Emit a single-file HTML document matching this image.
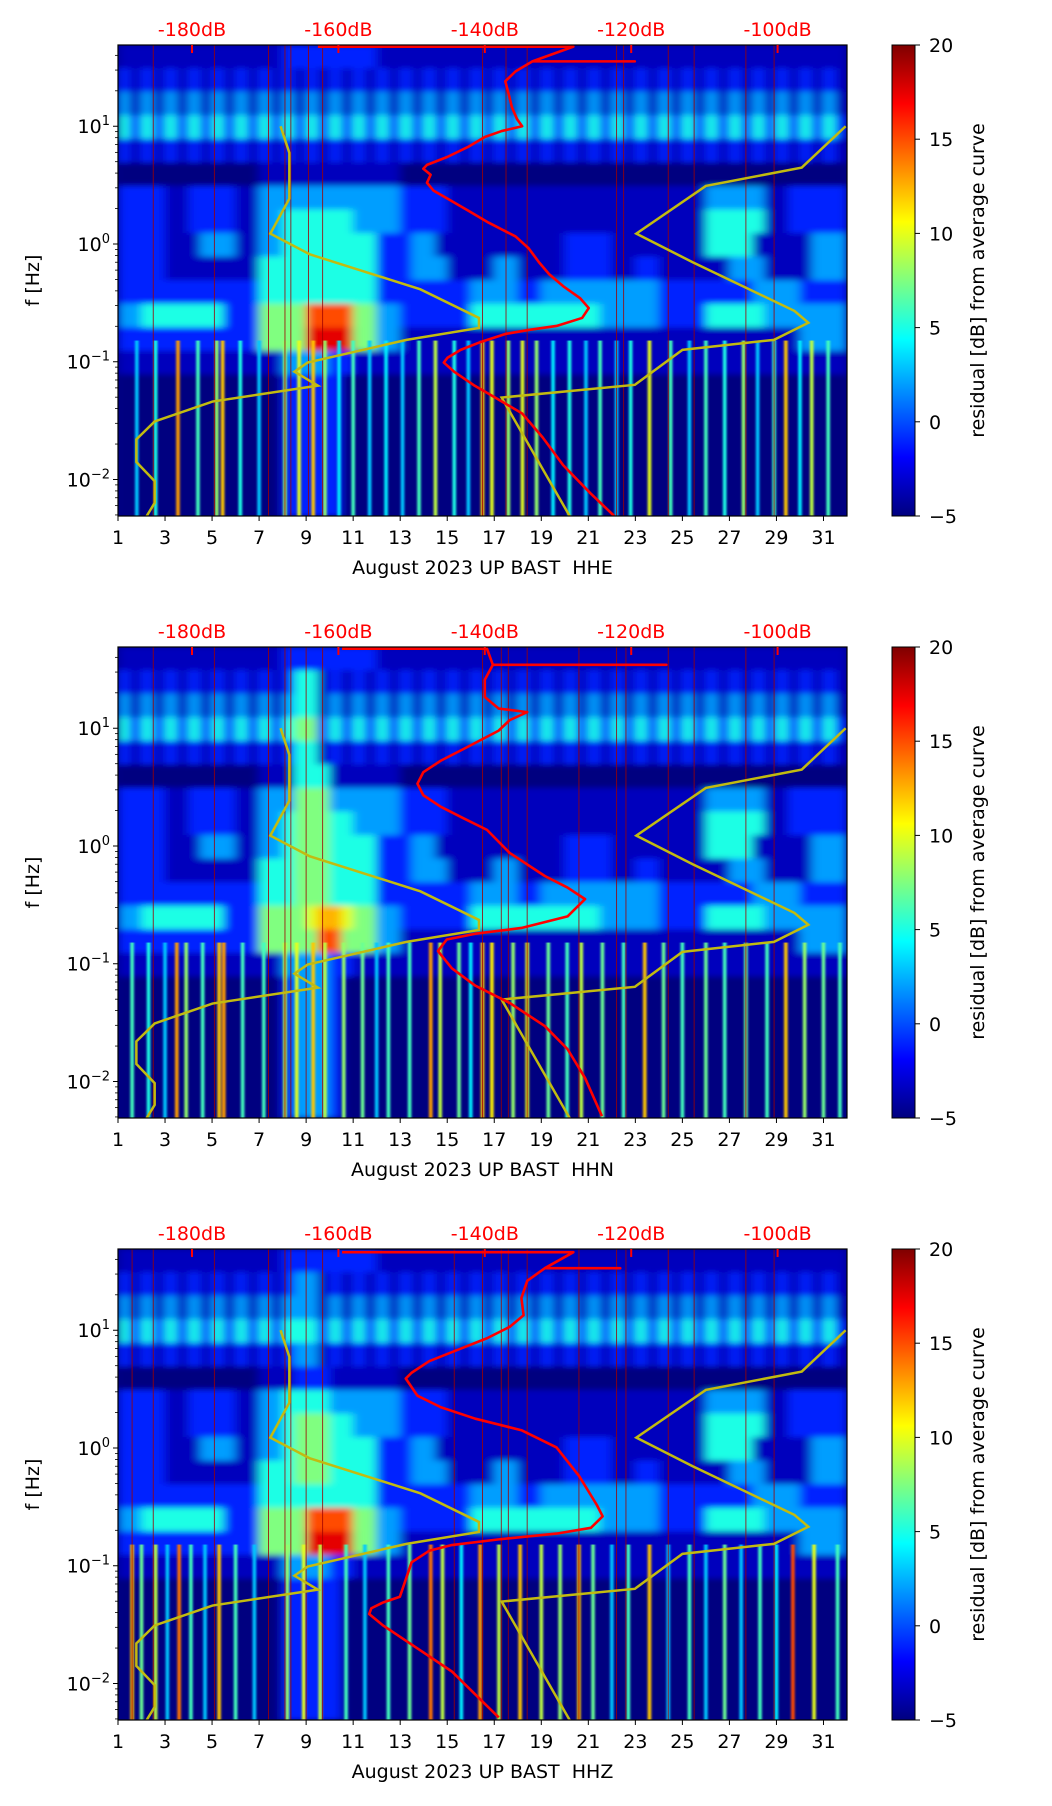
<!DOCTYPE html>
<html><head><meta charset="utf-8">
<style>
html,body{margin:0;padding:0;background:#fff;}
svg{display:block;font-family:"DejaVu Sans","Liberation Sans",sans-serif;}
</style></head>
<body>
<svg id="fig" width="1052" height="1806" viewBox="0 0 1052 1806" xmlns="http://www.w3.org/2000/svg">
<defs>
<filter id="blur" x="-5%" y="-5%" width="110%" height="110%"><feGaussianBlur stdDeviation="5 3"/></filter>
<filter id="blur2" x="-20%" y="-5%" width="140%" height="110%"><feGaussianBlur stdDeviation="1 0"/></filter>
<linearGradient id="jetgrad" x1="0" y1="1" x2="0" y2="0">
<stop offset="0" stop-color="#00007f"/><stop offset="0.125" stop-color="#0000ff"/><stop offset="0.375" stop-color="#00ffff"/><stop offset="0.625" stop-color="#ffff00"/><stop offset="0.875" stop-color="#ff0000"/><stop offset="1" stop-color="#7f0000"/>
</linearGradient>
</defs>
</svg>
<script>
// ---------- data ----------
const dayTicks = [1,3,5,7,9,11,13,15,17,19,21,23,25,27,29,31];
const dbTicks = [-180,-160,-140,-120,-100];
const cbTicks = [20,15,10,5,0,-5];
const yDecades = [1,0,-1,-2];
const panelNames = ['HHE','HHN','HHZ'];
// residual level for each grid digit
const levelDb = [-5,-3.5,-1,2,5,7.5,10,12.5,15,17.5];

// heatmap grids: 20 rows (0.2 decade each, 49Hz down to 0.005Hz) x 62 half-day columns
const gridE = [
"11111111111111222222221111111111111111111111111111111111111111",
"21212121212121212121212121212121212121212121212121212121212121",
"31313131313131313131313131313131313131313131313131313131313131",
"42424242424242424242424242424242424242424242424242424242424242",
"21212121212121212121212121212121212121212121212121212121212121",
"00000000000011111111111100000000000000000000000000000000000000",
"22221122221133333333333322221111111111111111111111333331122222",
"22221122221133444444333322221111111111111111111111444441122222",
"22221113331133444444442223311111111111222211111111444411111333",
"22221111111144444444442223331111331111222211221111113331111333",
"22222222222244444444442222222233332233333333332222222233332222",
"33444444422255558888553322222244444444444333332222444443333333",
"22222222222255559999553311111111111111111111111111111111113333",
"11111111111111333322111111111111111111111111111111111111111111",
"00000000000000222220000000000000000000000000000000000000000000",
"00000000000000222220000000000000000000000000000000000000000000",
"00000000000000222220000000000000000000000000000000000000000000",
"00000000000000222220000000000000000000000000000000000000000000",
"00000000000000222220000000000000000000000000000000000000000000",
"00000000000000222220000000000000000000000000000000000000000000"];
const gridN = [
"11111111111111222222221111111111111111111111111111111111111111",
"212121212121212"+"44"+"1"+"21212121212121212121212121212121212121212121",
"313131313131313"+"44"+"1"+"31313131313131313131313131313131313131313131",
"424242424242424"+"55"+"2"+"42424242424242424242424242424242424242424242",
"212121212121212"+"44"+"1"+"21212121212121212121212121212121212121212121",
"000000000000"+"111444111111"+"00000000000000000000000000000000000000",
"22221122221133355533333322221111111111111111111111333331122222",
"22221122221133455544333322221111111111111111111111444441122222",
"22221113331133455544442223311111111111222211111111444411111333",
"22221111111144455544442223331111331111222211221111113331111333",
"22222222222244455544442222222233332233333333332222222233332222",
"33444444422255556776553322222244444444444333332222444443333333",
"22222222222255555885553311111111111111111111111111111111113333",
"11111111111111333322111111111111111111111111111111111111111111",
"00000000000000233320000000000000000000000000000000000000000000",
"00000000000000233320000000000000000000000000000000000000000000",
"00000000000000233320000000000000000000000000000000000000000000",
"00000000000000233320000000000000000000000000000000000000000000",
"00000000000000233320000000000000000000000000000000000000000000",
"00000000000000233320000000000000000000000000000000000000000000"];
const gridZ = [
"11111111111111222222221111111111111111111111111111111111111111",
"212121212121212"+"33"+"1"+"21212121212121212121212121212121212121212121",
"313131313131313"+"33"+"1"+"31313131313131313131313131313131313131313131",
"424242424242424"+"44"+"2"+"42424242424242424242424242424242424242424242",
"212121212121212"+"33"+"1"+"21212121212121212121212121212121212121212121",
"000000000000"+"111222111111"+"00000000000000000000000000000000000000",
"22221122221133444433333322221111111111111111111111333331122222",
"22221122221133455544333322221111111111111111111111444441122222",
"22221113331133455544442223311111111111222211111111444411111333",
"22221111111144455544442223331111331111222211221111113331111333",
"22222222222244444444442222222233332233333333332222222233332222",
"33444444422255558888553322222244444444444333332222444443333333",
"22222222222255559999553311111111111111111111111111111111113333",
"11111111111111333322111111111111111111111111111111111111111111",
"00000000000000222220000000000000000000000000000000000000000000",
"00000000000000222220000000000000000000000000000000000000000000",
"00000000000000222220000000000000000000000000000000000000000000",
"00000000000000222220000000000000000000000000000000000000000000",
"00000000000000222220000000000000000000000000000000000000000000",
"00000000000000222220000000000000000000000000000000000000000000"];

// low-frequency vertical streaks (day, residual dB)
const streakDaysE = [1.8,2.6,3.55,4.4,5.2,5.45,6.2,7.0,8.1,8.7,9.3,9.8,10.4,11.0,11.7,12.4,13.1,13.8,14.5,15.3,15.9,16.5,16.9,17.6,18.2,18.8,19.5,20.2,20.9,21.5,22.2,22.8,23.6,24.5,25.3,26.0,26.8,27.6,28.2,28.9,29.4,30.0,30.5,31.2];
const streakValsE = [3,5,13,6,8,12,5,3,8,10,12,8,4,6,3,4,3,6,9,5,3,12,10,8,10,8,4,5,3,6,3,5,10,6,3,6,5,8,3,6,12,4,9,6];
const streakDaysN = [1.6,2.3,3.0,3.5,3.9,4.6,5.3,5.5,6.3,7.2,8.1,8.6,9.3,9.8,10.6,11.4,12.0,12.5,13.4,14.3,14.7,15.5,16.0,16.5,16.9,17.8,18.4,19.3,20.1,20.7,21.6,22.5,23.4,24.2,25.0,26.0,26.8,27.7,28.6,29.4,30.2,31.0,31.7];
const streakValsN = [6,5,3,13,8,6,12,13,6,6,9,10,12,9,8,7,3,6,6,13,9,7,4,12,11,8,10,7,6,9,7,6,12,7,6,7,6,7,6,12,8,7,6];
const streakDaysZ = [1.6,2.0,2.6,3.1,3.6,4.1,4.7,5.3,6.0,6.8,8.2,8.9,9.6,10.7,11.5,12.5,13.4,14.3,14.8,15.6,16.4,17.2,18.1,19.0,19.8,20.6,21.2,22.0,22.7,23.6,24.4,25.3,26.0,26.8,27.5,28.3,29.0,29.7,30.6,31.6];
const streakValsZ = [12,7,9,3,14,6,3,12,6,3,8,10,9,6,3,6,7,14,9,4,13,9,12,9,8,12,7,3,6,12,3,6,3,7,3,6,4,15,10,6];

// thin dark-red vertical lines (days)
const vlineDaysE = [2.5,5.1,7.4,8.1,8.35,9.1,9.7,16.5,17.5,18.4,22.2,22.5,24.4,25.5,27.7,28.9];
const vlineDaysN = [2.5,5.1,7.4,8.1,8.35,9.0,9.7,16.5,17.3,17.6,18.4,20.6,22.2,22.6,24.4,25.5,27.7,28.9];
const vlineDaysZ = [1.6,2.5,5.1,7.4,8.1,8.35,9.0,9.7,15.3,16.5,17.3,17.6,18.4,20.6,22.2,22.6,24.4,25.5,27.7,28.9];

// red average curve (dB, log10 f)
const redDbE = [-162.8,-127.9,-133.5,-119.5,-133.5,-135.8,-137.2,-136.7,-136.3,-135.6,-134.9,-137.7,-140,-142.3,-145.1,-147.9,-148.4,-147.4,-147.9,-147,-145.1,-142.3,-139.5,-135.8,-134,-132.6,-131.2,-129.3,-127,-125.8,-126.7,-130.2,-134,-137.2,-140.5,-143.3,-145.1,-145.6,-144.2,-141.4,-138.6,-134.9,-132.1,-129.3,-125.6,-122.3];
const redLogE = [1.676,1.676,1.551,1.551,1.551,1.466,1.382,1.264,1.162,1.061,1.0,0.959,0.909,0.824,0.74,0.672,0.639,0.588,0.52,0.453,0.385,0.284,0.182,0.064,-0.037,-0.155,-0.257,-0.358,-0.459,-0.544,-0.628,-0.696,-0.73,-0.764,-0.831,-0.899,-0.966,-1.007,-1.084,-1.203,-1.304,-1.439,-1.642,-1.878,-2.115,-2.311];
const redDbN = [-159.5,-139.7,-138.9,-115.2,-138.9,-140,-140,-138.1,-134.2,-136.6,-138.1,-142.9,-146,-148.4,-149.2,-148.4,-146,-142.9,-139.7,-136.6,-131.8,-128.7,-126.3,-128.7,-135,-141.3,-145.2,-146.4,-144.5,-141.3,-136.6,-131.8,-128.7,-126.3,-124];
const redLogN = [1.676,1.676,1.539,1.539,1.539,1.412,1.265,1.167,1.137,1.069,0.98,0.824,0.725,0.627,0.529,0.431,0.333,0.235,0.137,-0.059,-0.255,-0.353,-0.451,-0.598,-0.696,-0.745,-0.794,-0.892,-1.039,-1.186,-1.333,-1.529,-1.725,-1.971,-2.294];
const redDbZ = [-159.5,-127.9,-131.8,-121.5,-131.8,-134.2,-135,-134.7,-136.6,-139.7,-143.7,-147.6,-150,-150.8,-149.2,-146,-141.3,-135,-130.2,-127.1,-124.7,-123.9,-125.5,-130.2,-138.1,-144.5,-147.6,-150,-150.8,-151.6,-153.9,-155.5,-155.8,-153.9,-149.2,-144.5,-141.3,-138.1];
const redLogZ = [1.663,1.663,1.527,1.527,1.527,1.42,1.273,1.127,1.029,0.932,0.834,0.737,0.639,0.59,0.444,0.346,0.249,0.151,0.005,-0.239,-0.483,-0.58,-0.678,-0.727,-0.776,-0.824,-0.873,-0.971,-1.117,-1.263,-1.312,-1.361,-1.41,-1.507,-1.702,-1.898,-2.093,-2.288];

// yellow noise-model curves (dB, log10 f)
const lowDb = [-167.9,-166.7,-166.7,-169.3,-163.9,-148.8,-140.8,-140.8,-150.7,-164.2,-166.0,-162.8,-177.2,-185.1,-187.6,-187.6,-185.1,-185.1,-186.2];
const lowLog = [1.0,0.774,0.385,0.088,-0.088,-0.385,-0.628,-0.713,-0.814,-1.007,-1.084,-1.203,-1.338,-1.507,-1.659,-1.851,-2.014,-2.199,-2.311];
const highDb = [-90.7,-96.7,-109.8,-119.3,-111.6,-97.7,-95.8,-100.5,-113.0,-119.5,-137.7,-128.4];
const highLog = [1.0,0.649,0.493,0.088,-0.155,-0.568,-0.669,-0.814,-0.899,-1.196,-1.304,-2.311];

// ---------- drawing ----------
const NS = 'http://www.w3.org/2000/svg';
const svg = document.getElementById('fig');
const PL = 118, PR = 847, PH = 471;
const tops = [45, 647, 1249];
const LTOP = 1.69, LBOT = -2.31;
const grids = [gridE, gridN, gridZ];
const sDays = [streakDaysE, streakDaysN, streakDaysZ];
const sVals = [streakValsE, streakValsN, streakValsZ];
const vDays = [vlineDaysE, vlineDaysN, vlineDaysZ];
const rDb = [redDbE, redDbN, redDbZ];
const rLog = [redLogE, redLogN, redLogZ];

function xDay(d){ return PL + (d-1)*(PR-PL)/31; }
function xDb(db){ return 192 + (db+180)*7.32; }
function yLog(T,L){ return T + (LTOP-L)/(LTOP-LBOT)*PH; }
function jet(v){
  const t = Math.max(0, Math.min(1, (v+5)/25));
  const c = x => Math.round(255*Math.max(0, Math.min(1, x)));
  return 'rgb('+c(1.5-Math.abs(4*t-3))+','+c(1.5-Math.abs(4*t-2))+','+c(1.5-Math.abs(4*t-1))+')';
}
function el(tag, attrs, parent){
  const e = document.createElementNS(NS, tag);
  for (const k in attrs) e.setAttribute(k, attrs[k]);
  (parent||svg).appendChild(e);
  return e;
}
function txt(s, attrs, parent){ const e = el('text', attrs, parent); e.textContent = s; return e; }

tops.forEach((T, p) => {
  const panel = el('g', {});
  
  

  const cid = 'clip' + p;
  const cp = el('clipPath', {id: cid}, panel);
  el('rect', {x: PL, y: T, width: PR-PL, height: PH}, cp);

  const plot = el('g', {'clip-path': 'url(#' + cid + ')'}, panel);
  
  
  el('rect', {x: PL, y: T, width: PR-PL, height: PH, fill: '#000088'}, plot);

  const heat = el('g', {filter: 'url(#blur)'}, plot);
  
  
  const g = grids[p];
  const nRows = g.length, rowL = (LTOP-LBOT)/nRows;
  g.forEach((row, r) => {
    const y0 = yLog(T, LTOP - r*rowL), y1 = yLog(T, LTOP - (r+1)*rowL);
    for (let c = 0; c < row.length; c++){
      const v = levelDb[parseInt(row[c], 10)];
      const x0 = xDay(1 + c*0.5), x1 = xDay(1.5 + c*0.5);
      const cell = el('rect', {x: x0-0.3, y: y0-0.3, width: x1-x0+0.6, height: y1-y0+0.6, fill: jet(v)}, heat);
      
      
    }
  });

  const st = el('g', {filter: 'url(#blur2)'}, plot);
  
  
  sDays[p].forEach((d, i) => {
    const s = el('rect', {x: xDay(d)-1.8, y: yLog(T, -0.82), width: 3.6, height: yLog(T, LBOT)-yLog(T, -0.82), fill: jet(sVals[p][i])}, st);
    
    
  });

  vDays[p].forEach(d => {
    const l = el('line', {x1: xDay(d), x2: xDay(d), y1: T, y2: T+PH, stroke: '#a00000', 'stroke-width': 1, opacity: 0.8}, plot);
    
    
  });

  const low = el('polyline', {points: lowDb.map((d,i)=>xDb(d)+','+yLog(T,lowLog[i])).join(' '), fill: 'none', stroke: '#c2bb10', 'stroke-width': 2.5}, plot);
  
  
  const high = el('polyline', {points: highDb.map((d,i)=>xDb(d)+','+yLog(T,highLog[i])).join(' '), fill: 'none', stroke: '#c2bb10', 'stroke-width': 2.5}, plot);
  
  
  const red = el('polyline', {points: rDb[p].map((d,i)=>xDb(d)+','+yLog(T,rLog[p][i])).join(' '), fill: 'none', stroke: '#ff0000', 'stroke-width': 2.6, 'stroke-linejoin': 'round'}, plot);
  
  

  const frame = el('rect', {x: PL, y: T, width: PR-PL, height: PH, fill: 'none', stroke: '#000', 'stroke-width': 1.2}, panel);
  
  

  dayTicks.forEach(d => {
    el('line', {x1: xDay(d), x2: xDay(d), y1: T+PH, y2: T+PH+5, stroke: '#000', 'stroke-width': 1}, panel);
    const t = txt(String(d), {x: xDay(d), y: T+PH+28, 'font-size': 19, 'text-anchor': 'middle', fill: '#000'}, panel);
    
    
  });
  const xl = txt('August 2023 UP BAST\u00a0\u00a0' + panelNames[p], {x: (PL+PR)/2, y: T+PH+58, 'font-size': 19, 'text-anchor': 'middle', fill: '#000'}, panel);
  
  

  yDecades.forEach(k => {
    const y = yLog(T, k);
    el('line', {x1: PL-5, x2: PL, y1: y, y2: y, stroke: '#000', 'stroke-width': 1}, panel);
    const t = el('text', {x: PL-8, y: y+7, 'font-size': 19, 'text-anchor': 'end', fill: '#000'}, panel);
    
    
    const a = document.createElementNS(NS, 'tspan'); a.textContent = '10'; t.appendChild(a);
    const b = document.createElementNS(NS, 'tspan'); b.setAttribute('dy', '-8'); b.setAttribute('font-size', '13');
    b.textContent = k < 0 ? '\u2212' + (-k) : String(k); t.appendChild(b);
  });
  for (let k = -3; k <= 1; k++){
    for (let m = 2; m <= 9; m++){
      const L = k + Math.log10(m);
      if (L > LTOP || L < LBOT) continue;
      const y = yLog(T, L);
      el('line', {x1: PL-3, x2: PL, y1: y, y2: y, stroke: '#000', 'stroke-width': 0.8}, panel);
    }
  }
  const yl = txt('f [Hz]', {x: 0, y: 0, 'font-size': 19, 'text-anchor': 'middle', fill: '#000', transform: 'translate(39,' + (T+PH/2) + ') rotate(-90)'}, panel);
  
  

  dbTicks.forEach(db => {
    el('line', {x1: xDb(db), x2: xDb(db), y1: T, y2: T+8, stroke: '#ff0000', 'stroke-width': 2}, panel);
    const t = txt(db + 'dB', {x: xDb(db), y: T-9, 'font-size': 19, 'text-anchor': 'middle', fill: '#ff0000'}, panel);
    
    
  });

  const CX = 892, CW = 23;
  const cb = el('rect', {x: CX, y: T, width: CW, height: PH, fill: 'url(#jetgrad)', stroke: '#000', 'stroke-width': 1}, panel);
  
  
  cbTicks.forEach(v => {
    const y = T + (20-v)/25*PH;
    el('line', {x1: CX+CW, x2: CX+CW+5, y1: y, y2: y, stroke: '#000', 'stroke-width': 1}, panel);
    const t = txt(v < 0 ? '\u2212' + (-v) : String(v), {x: CX+CW+14, y: y+7, 'font-size': 19, fill: '#000'}, panel);
    
    
  });
  const cl = txt('residual [dB] from average curve', {x: 0, y: 0, 'font-size': 19, 'text-anchor': 'middle', fill: '#000', transform: 'translate(984,' + (T+PH/2) + ') rotate(-90)'}, panel);
  
  
});
</script>
</body></html>
